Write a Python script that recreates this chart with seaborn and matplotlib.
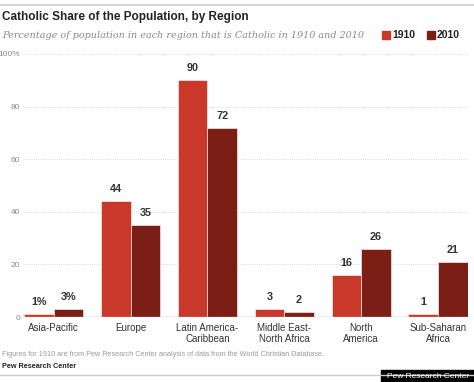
import matplotlib
matplotlib.use("Agg")
import matplotlib.pyplot as plt
import seaborn as sns
import pandas as pd

regions = ["Asia-Pacific", "Europe", "Latin America-\nCaribbean",
           "Middle East-\nNorth Africa", "North\nAmerica", "Sub-Saharan\nAfrica"]
share_1910 = [1, 44, 90, 3, 16, 1]
share_2010 = [3, 35, 72, 2, 26, 21]
labels_1910 = ["1%", "44", "90", "3", "16", "1"]
labels_2010 = ["3%", "35", "72", "2", "26", "21"]
years = ["1910", "2010"]
yticks = [0, 20, 40, 60, 80, 100]
ytick_labels = ["0", "20", "40", "60", "80", "100%"]

colors = {"1910": "#c9392a", "2010": "#7a1e16"}

df = pd.DataFrame({
    "region": regions * 2,
    "year": [years[0]] * len(regions) + [years[1]] * len(regions),
    "share": share_1910 + share_2010,
})

sns.set_theme(style="white")
plt.rcParams["font.family"] = ["Liberation Sans", "DejaVu Sans"]

fig = plt.figure(figsize=(4.74, 3.82), dpi=100)
ax = fig.add_axes([23 / 474, 1 - 317 / 382, 445 / 474, 263 / 382])

sns.barplot(data=df, x="region", y="share", hue="year", palette=colors,
            saturation=1, width=0.77, edgecolor="white", linewidth=0.4,
            legend=False, ax=ax)

ax.set_xlim(-0.40, 5.39)
ax.set_ylim(0, 100)
ax.set_yticks(yticks)
ax.set_yticklabels(ytick_labels, color="#888888", fontsize=6)
ax.tick_params(axis="y", length=0, pad=2)
ax.tick_params(axis="x", length=0, pad=4)
ax.set_xticks(range(len(regions)))
ax.set_xticklabels(regions, fontsize=7, color="#333333", linespacing=1.15)
ax.set_xlabel("")
ax.set_ylabel("")
for y in yticks[1:]:
    ax.axhline(y, color="#cccccc", linestyle=(0, (1, 1.5)), linewidth=0.6, zorder=0)
ax.axhline(0, color="#aaaaaa", linewidth=1.0, zorder=3)
for s in ax.spines.values():
    s.set_visible(False)

for container, labs in zip(ax.containers, [labels_1910, labels_2010]):
    ax.bar_label(container, labels=labs, padding=5, fontsize=7.8,
                 fontweight="bold", color="#333333")

# header
fig.add_artist(plt.Line2D([0, 1], [1 - 5 / 382] * 2, color="#cccccc", linewidth=1.2))
fig.text(2 / 474, 1 - 17 / 382, "Catholic Share of the Population, by Region",
         fontsize=8.5, fontweight="bold", color="#222222", va="center")
fig.text(2 / 474, 1 - 35 / 382,
         "Percentage of population in each region that is Catholic in 1910 and 2010",
         fontsize=6.9, fontstyle="italic", family="DejaVu Serif", color="#888888", va="center")
for x0, yr in zip([382, 427], years):
    fig.patches.append(plt.Rectangle((x0 / 474, 1 - 39 / 382), 8 / 474, 8 / 382,
                                     transform=fig.transFigure, color=colors[yr]))
    fig.text((x0 + 10) / 474, 1 - 35 / 382, yr, fontsize=7.5, fontweight="bold",
             color="#222222", va="center")

# footer
fig.text(2 / 474, 1 - 354 / 382,
         "Figures for 1910 are from Pew Research Center analysis of data from the World Christian Database.",
         fontsize=5.2, color="#999999", va="center")
fig.text(2 / 474, 1 - 366 / 382, "Pew Research Center", fontsize=5.2,
         fontweight="bold", color="#222222", va="center")
fig.add_artist(plt.Line2D([0, 1], [1 - 375 / 382] * 2, color="#cccccc", linewidth=1.0))
fig.patches.append(plt.Rectangle((381 / 474, 0), 93 / 474, 12 / 382,
                                 transform=fig.transFigure, color="black"))
fig.text(428 / 474, 6 / 382, "Pew Research Center", fontsize=6, color="white",
         ha="center", va="center")

fig.savefig("out.png", dpi=100)
